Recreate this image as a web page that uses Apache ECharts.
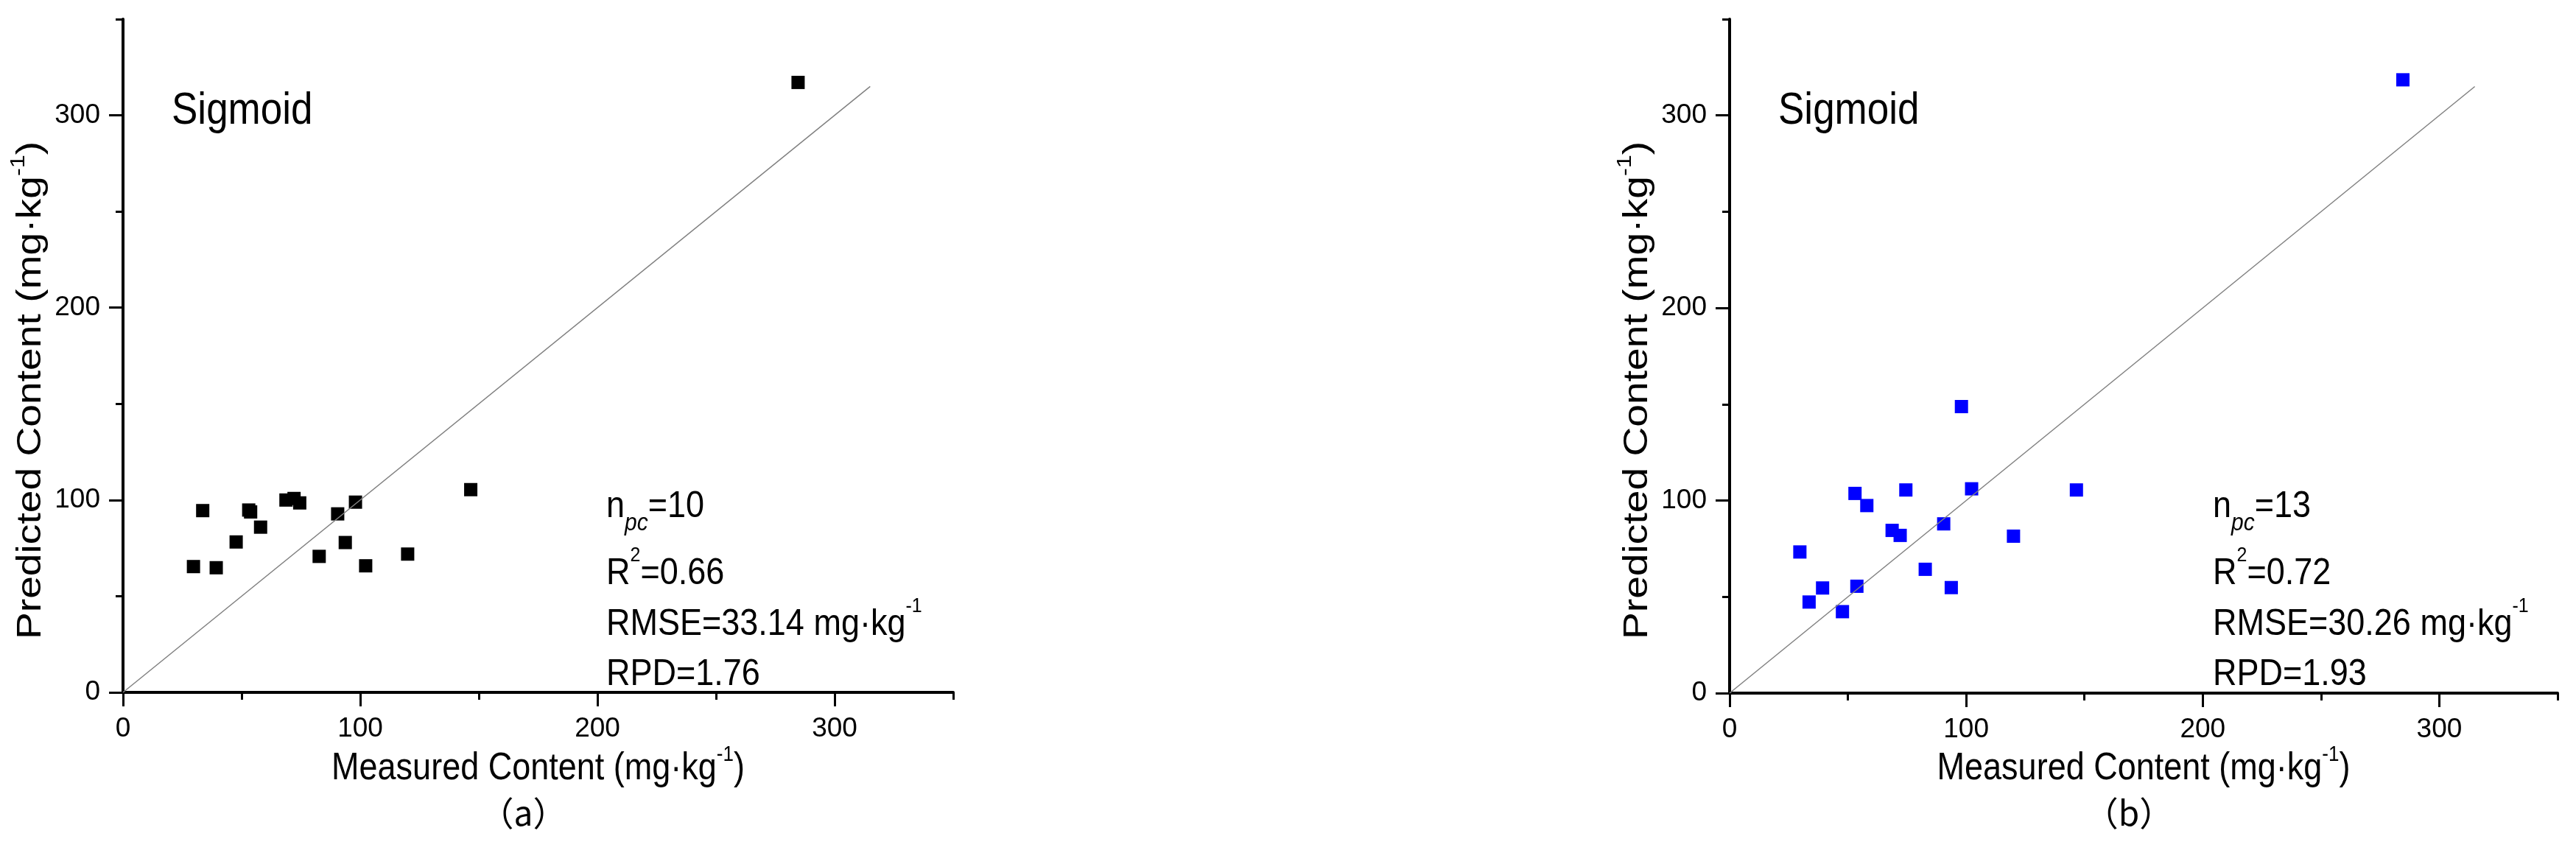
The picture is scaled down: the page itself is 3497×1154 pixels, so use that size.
<!DOCTYPE html>
<html>
<head>
<meta charset="utf-8">
<script src="https://cdn.jsdelivr.net/npm/echarts@6/dist/echarts.min.js"></script>
<style>
html,body{margin:0;padding:0;background:#fff;}
#chart{width:3497px;height:1154px;}
</style>
</head>
<body>
<div id="chart"></div>
<script>
// ---- data ----
const measured   = [29.7, 33.6, 39.3, 47.7, 53.0, 53.8, 58.0, 68.7, 72.1, 74.5, 82.7, 90.5, 93.7, 98.0, 102.3, 120.0, 146.6, 284.6];
const predictedA = [65.4, 94.5, 64.8, 78.2, 94.8, 93.8, 85.9, 100.0, 100.8, 98.5, 70.7, 92.8, 77.9, 98.9, 65.8, 71.9, 105.4, 317.1];
const predictedB = [73.3, 47.3, 54.6, 42.3, 103.7, 55.5, 97.4, 84.5, 81.9, 105.5, 64.3, 87.9, 54.8, 148.8, 106.1, 81.5, 105.5, 318.5];
const identityLine = [0, 315];
const majorTicks = [0, 100, 200, 300];
const minorTicks = [50, 150, 250, 350];
const axisMin = 0, axisMax = 350;
const panelLabels = ['（a）', '（b）'];
const modelName = 'Sigmoid';
const npcValues = ['10', '13'];
const r2Values = ['0.66', '0.72'];
const rmseValues = ['33.14', '30.26'];
const rpdValues = ['1.76', '1.93'];

// ---- layout ----
const FONT = "'Liberation Sans', Arial, 'Noto Sans CJK SC', sans-serif";
const CJK = "'Noto Sans CJK SC', 'Liberation Sans', sans-serif";
const grids = [
  {left: 167, top: 26, width: 1127, height: 914},
  {left: 2348, top: 26, width: 1124, height: 915}
];
const colors = ['#000000', '#0000ff'];
const series_pred = [predictedA, predictedB];

const xAxes = [], yAxes = [], series = [], graphics = [];

grids.forEach((g, gi) => {
  const base = {
    type: 'value', gridIndex: gi, min: axisMin, max: axisMax, interval: 50,
    splitLine: {show: false}
  };
  const labelStyle = {color: '#000', fontFamily: FONT, fontSize: 37};
  xAxes.push(Object.assign({}, base, {
    position: 'bottom',
    axisLine: {show: true, onZero: false, lineStyle: {color: '#000', width: 4}},
    axisTick: {show: true, customValues: majorTicks, length: 19, lineStyle: {color: '#000', width: 3}},
    axisLabel: Object.assign({customValues: majorTicks, margin: 31}, labelStyle)
  }));
  xAxes.push(Object.assign({}, base, {
    position: 'bottom',
    axisLine: {show: false, onZero: false},
    axisTick: {show: true, customValues: minorTicks, length: 10, lineStyle: {color: '#000', width: 3}},
    axisLabel: {show: false}
  }));
  yAxes.push(Object.assign({}, base, {
    position: 'left',
    axisLine: {show: true, onZero: false, lineStyle: {color: '#000', width: 4}},
    axisTick: {show: true, customValues: majorTicks, length: 19, lineStyle: {color: '#000', width: 3}},
    axisLabel: Object.assign({customValues: majorTicks, margin: 31}, labelStyle)
  }));
  yAxes.push(Object.assign({}, base, {
    position: 'left',
    axisLine: {show: false, onZero: false},
    axisTick: {show: true, customValues: minorTicks, length: 10, lineStyle: {color: '#000', width: 3}},
    axisLabel: {show: false}
  }));

  series.push({
    type: 'scatter', xAxisIndex: gi * 2, yAxisIndex: gi * 2,
    symbol: 'rect', symbolSize: 18,
    itemStyle: {color: colors[gi], opacity: 1},
    data: measured.map((x, i) => [x, series_pred[gi][i]]),
    z: 2
  });
  series.push({
    type: 'line', xAxisIndex: gi * 2, yAxisIndex: gi * 2,
    symbol: 'none', silent: true,
    lineStyle: {color: '#808080', width: 1.5},
    data: identityLine.map(v => [v, v]),
    z: 3
  });

  const dx = g.left - 167;
  const plotCx = g.left + g.width / 2;

  // model name
  graphics.push({
    type: 'text', x: 233 + dx, y: 151, scaleY: 1.15,
    style: {text: modelName, fontFamily: FONT, fontSize: 53, fill: '#000', align: 'left', verticalAlign: 'middle'}
  });

  // stats block
  const statX = 823 + dx;
  const mainRich = {fontFamily: FONT, fontSize: 45, fill: '#000', lineHeight: 70, verticalAlign: 'middle'};
  const sy = 1.12;
  graphics.push({
    type: 'text', x: statX, y: 688, scaleY: sy,
    style: {
      text: '{m|n}{sub|pc}{m|=' + npcValues[gi] + '}',
      align: 'left', verticalAlign: 'middle',
      rich: {
        m: mainRich,
        sub: {fontFamily: FONT, fontSize: 30, fontStyle: 'italic', fill: '#000', lineHeight: 32, verticalAlign: 'bottom'}
      }
    }
  });
  graphics.push({
    type: 'text', x: statX, y: 779, scaleY: sy,
    style: {
      text: '{m|R}{sup|2}{m|=' + r2Values[gi] + '}',
      align: 'left', verticalAlign: 'middle',
      rich: {
        m: mainRich,
        sup: {fontFamily: FONT, fontSize: 25, fill: '#000', lineHeight: 34, verticalAlign: 'top'}
      }
    }
  });
  graphics.push({
    type: 'text', x: statX, y: 848, scaleY: sy,
    style: {
      text: '{m|RMSE=' + rmseValues[gi] + ' mg·kg}{sup|-1}',
      align: 'left', verticalAlign: 'middle',
      rich: {
        m: mainRich,
        sup: {fontFamily: FONT, fontSize: 25, fill: '#000', lineHeight: 44, verticalAlign: 'top'}
      }
    }
  });
  graphics.push({
    type: 'text', x: statX, y: 916, scaleY: sy,
    style: {
      text: '{m|RPD=' + rpdValues[gi] + '}',
      align: 'left', verticalAlign: 'middle',
      rich: {m: mainRich}
    }
  });

  // axis titles
  const xTitleRich = {
    m: {fontFamily: FONT, fontSize: 45, fill: '#000', lineHeight: 60, verticalAlign: 'middle'},
    sup: {fontFamily: FONT, fontSize: 26, fill: '#000', lineHeight: 42, verticalAlign: 'top'}
  };
  graphics.push({
    type: 'text', x: plotCx, y: 1044, scaleY: 1.15,
    style: {text: '{m|Measured Content (mg·kg}{sup|-1}{m|)}', align: 'center', verticalAlign: 'middle', rich: xTitleRich}
  });
  const yTitleRich = {
    m: {fontFamily: FONT, fontSize: 46, fill: '#000', lineHeight: 60, verticalAlign: 'middle'},
    sup: {fontFamily: FONT, fontSize: 27, fill: '#000', lineHeight: 42, verticalAlign: 'top'}
  };
  graphics.push({
    type: 'text', x: 42 + dx, y: 530, rotation: Math.PI / 2, scaleX: 1.2,
    style: {text: '{m|Predicted Content (mg·kg}{sup|-1}{m|)}', align: 'center', verticalAlign: 'middle', rich: yTitleRich}
  });
  // panel label
  graphics.push({
    type: 'text', x: plotCx - 20, y: 1104,
    style: {text: panelLabels[gi], fontFamily: CJK, fontSize: 46, fill: '#000', align: 'center', verticalAlign: 'middle'}
  });
});

const chart = echarts.init(document.getElementById('chart'), null, {renderer: 'canvas'});
chart.setOption({
  backgroundColor: '#ffffff',
  animation: false,
  grid: grids.map(g => Object.assign({containLabel: false}, g)),
  xAxis: xAxes,
  yAxis: yAxes,
  series: series,
  graphic: graphics
});
</script>
</body>
</html>
